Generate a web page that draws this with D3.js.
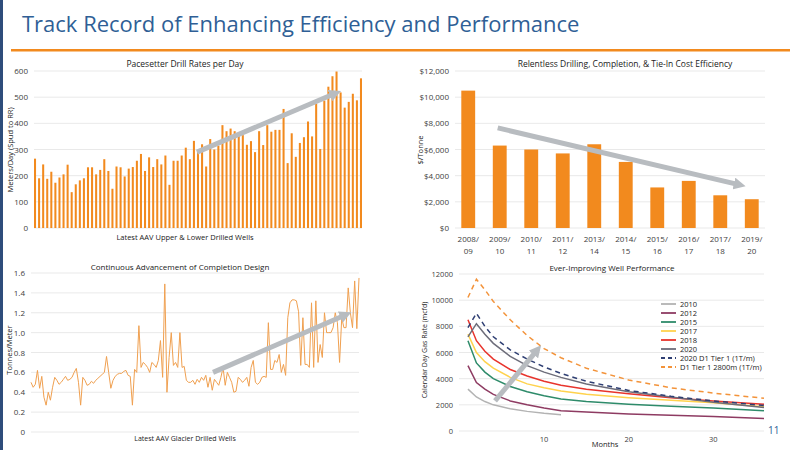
<!DOCTYPE html>
<html><head><meta charset="utf-8">
<script src="https://cdn.jsdelivr.net/npm/d3@7"></script>
<style>body{margin:0;background:#fff}text{font-family:"Open Sans",sans-serif}</style>
</head><body><svg id="c" width="800" height="450"></svg>
<script>
const drillRates=[265,190,243,188,215,173,193,205,242,137,167,182,190,232,232,205,222,263,218,150,235,232,197,227,233,257,283,218,270,233,263,243,277,165,257,257,277,307,263,333,297,320,235,340,300,315,393,370,380,370,355,355,318,332,290,370,317,393,368,375,375,455,248,362,272,325,347,407,350,475,302,487,540,580,598,518,460,482,513,488,572];
const drillTicks=[0,100,200,300,400,500,600];
const costCats=["2008/\n09","2009/\n10","2010/\n11","2011/\n12","2013/\n14","2014/\n15","2015/\n16","2016/\n17","2017/\n18","2019/\n20"];
const costVals=[10500,6300,6000,5700,6400,5050,3100,3600,2500,2200];
const costTicks=[0,2000,4000,6000,8000,10000,12000];
const tonnes=[0.5,0.45,0.48,0.62,0.44,0.56,0.35,0.27,0.4,0.32,0.45,0.55,0.52,0.48,0.5,0.53,0.56,0.52,0.53,0.55,0.6,0.64,0.5,0.27,
0.55,0.52,0.47,0.48,0.51,0.49,0.52,0.54,0.56,0.58,0.6,0.76,0.6,0.44,0.52,0.56,0.58,0.59,0.59,0.61,0.62,0.57,0.56,0.27,0.63,0.6,
1.07,0.65,0.7,0.68,0.65,0.6,0.7,0.68,0.65,0.72,0.92,0.55,1.49,0.4,0.75,1.0,0.67,0.7,0.65,1.0,0.65,0.66,
0.52,0.5,0.5,0.52,0.48,0.53,0.5,0.55,0.52,0.57,0.45,0.55,0.42,0.53,0.5,0.47,0.55,0.65,0.47,0.6,0.55,0.5,0.4,0.41,0.55,0.53,0.5,0.52,0.55,0.46,0.65,0.72,0.5,0.48,0.5,0.55,0.56,0.55,1.1,0.63,0.63,0.72,0.7,0.78,0.6,0.68,0.57,1.15,1.3,1.33,1.33,1.32,
1.21,0.67,1.15,0.68,0.68,0.65,1.3,0.65,1.32,0.7,0.88,0.75,1.2,1.0,1.0,1.0,1.05,1.2,1.1,0.7,1.15,1.05,1.05,1.45,1.2,1.05,1.52,1.04,1.55];
const tonneTicks=[0,0.2,0.4,0.6,0.8,1.0,1.2,1.4,1.6];
const months=[1,2,3,4,6,8,10,12,15,20,25,30,36];
const wellSeries=[
 {name:"2010",color:"#b3b3b3",dash:null,vals:[3200,2600,2250,2000,1700,1500,1350,1250]},
 {name:"2012",color:"#8e3b62",dash:null,vals:[5000,3700,3200,2800,2300,2000,1750,1550,1450,1300,1200,1100,950]},
 {name:"2015",color:"#2e8b6a",dash:null,vals:[6900,5200,4500,4000,3400,3000,2700,2450,2250,2050,1900,1750,1550]},
 {name:"2017",color:"#ffd24d",dash:null,vals:[7400,6000,5300,4800,4100,3600,3300,3050,2800,2550,2350,2150,1850]},
 {name:"2018",color:"#e8342c",dash:null,vals:[8500,6900,6100,5500,4700,4200,3800,3500,3200,2850,2550,2300,2050]},
 {name:"2020",color:"#6d6d7a",dash:null,vals:[7200,8200,7400,6700,5700,5000,4500,4100,3600,3000,2600,2200,1800]},
 {name:"2020 D1 Tier 1 (1T/m)",color:"#2f3f73",dash:"5,4",vals:[7900,9000,8000,7200,6200,5500,4900,4400,3800,3100,2650,2300,1950]},
 {name:"D1 Tier 1 2800m (1T/m)",color:"#f3933a",dash:"5,4",vals:[10200,11600,10800,9900,8500,7300,6300,5600,4800,3900,3300,2900,2500]}];
const wellTicks=[0,2000,4000,6000,8000,10000,12000];
const monthTicks=[10,20,30];

const svg=d3.select("#c");
const OR="#f28a1e", GRID="#e3e3e3", TXT="#404040", ARW="#b8bcc0";
svg.append("rect").attr("x",0).attr("y",0).attr("width",3).attr("height",450).attr("fill","#2e4d7b");
svg.append("text").attr("x",22).attr("y",32).attr("font-size",22).attr("fill","#2f5f96").text("Track Record of Enhancing Efficiency and Performance");
svg.append("rect").attr("x",11).attr("y",49).attr("width",779).attr("height",2.5).attr("fill","#f28a1e");
const defs=svg.append("defs");
defs.append("marker").attr("id","ah").attr("viewBox","0 0 10 10").attr("refX",5).attr("refY",5).attr("markerWidth",2.4).attr("markerHeight",2.4).attr("orient","auto")
 .append("path").attr("d","M0,0L10,5L0,10z").attr("fill",ARW);
function arrow(x1,y1,x2,y2){svg.append("line").attr("x1",x1).attr("y1",y1).attr("x2",x2).attr("y2",y2).attr("stroke",ARW).attr("stroke-width",5).attr("marker-end","url(#ah)");}
function yaxis(y,ticks,x0,x1,fmt,fs){
 ticks.forEach(t=>{svg.append("line").attr("x1",x0).attr("x2",x1).attr("y1",y(t)).attr("y2",y(t)).attr("stroke",GRID).attr("stroke-width",0.8);
 svg.append("text").attr("x",x0-6).attr("y",y(t)+3).attr("text-anchor","end").attr("font-size",fs||8).attr("fill",TXT).text(fmt(t));});
}
function label(x,y,t,fs,rot){const e=svg.append("text").attr("font-size",fs).attr("fill","#222").attr("text-anchor","middle").text(t);
 if(rot) e.attr("transform",`translate(${x},${y}) rotate(-90)`); else e.attr("x",x).attr("y",y);}

// Chart 1
{const x=d3.scaleBand().domain(d3.range(drillRates.length)).range([34,362]).paddingInner(0.5);
 const y=d3.scaleLinear().domain([0,600]).range([228,71]);
 yaxis(y,drillTicks,34,362,d=>d);
 svg.selectAll(".b1").data(drillRates).join("rect").attr("x",(d,i)=>x(i)).attr("width",x.bandwidth()).attr("y",d=>y(d)).attr("height",d=>228-y(d)).attr("fill",OR);
 label(185,67,"Pacesetter Drill Rates per Day",8.5);
 label(185,240,"Latest AAV Upper & Lower Drilled Wells",7.5);
 label(13,150,"Meters/Day (Spud to RR)",7.5,true);
 arrow(x(40),y(290),x(74),y(515));}
// Chart 2
{const x=d3.scaleBand().domain(costCats).range([455,765]).paddingInner(0.56).paddingOuter(0.2);
 const y=d3.scaleLinear().domain([0,12000]).range([228,71]);
 yaxis(y,costTicks,455,765,d=>"$"+d3.format(",")(d));
 svg.selectAll(".b2").data(costVals).join("rect").attr("x",(d,i)=>x(costCats[i])).attr("width",x.bandwidth()).attr("y",d=>y(d)).attr("height",d=>228-y(d)).attr("fill",OR);
 costCats.forEach(c=>{const p=c.split("\n");const cx=x(c)+x.bandwidth()/2;
  svg.append("text").attr("x",cx).attr("y",242).attr("text-anchor","middle").attr("font-size",8).attr("fill",TXT).text(p[0]);
  svg.append("text").attr("x",cx).attr("y",254).attr("text-anchor","middle").attr("font-size",8).attr("fill",TXT).text(p[1]);});
 label(625,67,"Relentless Drilling, Completion, & Tie-In Cost Efficiency",8.5);
 label(423,150,"$/Tonne",7.5,true);
 const xc=i=>x(costCats[i])+x.bandwidth()/2;
 arrow(xc(1)-2,y(7650),xc(9)-12,y(3300));}
// Chart 3
{const n=tonnes.length-1;
 const x=d3.scaleLinear().domain([0,n]).range([31,359]);
 const y=d3.scaleLinear().domain([0,1.6]).range([432,273]);
 yaxis(y,tonneTicks,31,359,d=>d===0?"0":d3.format(".1f")(d));
 svg.append("path").datum(tonnes).attr("d",d3.line().x((d,i)=>x(i)).y(d=>y(d))).attr("fill","none").attr("stroke","#f0a050").attr("stroke-width",1);
 label(180,270,"Continuous Advancement of Completion Design",8);
 label(185,441,"Latest AAV Glacier Drilled Wells",7);
 label(12,350,"Tonnes/Meter",7.5,true);
 arrow(x(n*0.555),y(0.6),x(n*0.96),y(1.18));}
// Chart 4
{const x=d3.scaleLinear().domain([0,36]).range([459.5,764]);
 const y=d3.scaleLinear().domain([0,12000]).range([431,274]);
 yaxis(y,wellTicks,459,764,d=>d,7.5);
 monthTicks.forEach(t=>svg.append("text").attr("x",x(t)).attr("y",442).attr("text-anchor","middle").attr("font-size",7.5).attr("fill",TXT).text(t));
 const ln=d3.line().x((d,i)=>x(months[i])).y(d=>y(d));
 wellSeries.forEach(s=>svg.append("path").datum(s.vals).attr("d",ln).attr("fill","none").attr("stroke",s.color).attr("stroke-width",1.5).attr("stroke-dasharray",s.dash));
 wellSeries.forEach((s,i)=>{const yy=304+i*9;
  svg.append("line").attr("x1",661).attr("x2",676).attr("y1",yy).attr("y2",yy).attr("stroke",s.color).attr("stroke-width",1.8).attr("stroke-dasharray",s.dash?"4,3":null);
  svg.append("text").attr("x",680).attr("y",yy+3).attr("font-size",7.5).attr("fill","#222").text(s.name);});
 label(612,271,"Ever-Improving Well Performance",8);
 label(605,447,"Months",7.5);
 label(427,350,"Calendar Day Gas Rate (mcfd)",7,true);
 arrow(x(4.2),y(2300),x(9.2),y(6200));
 svg.append("text").attr("x",768).attr("y",434).attr("font-size",10).attr("fill","#2f5f96").text("11");}
</script></body></html>
